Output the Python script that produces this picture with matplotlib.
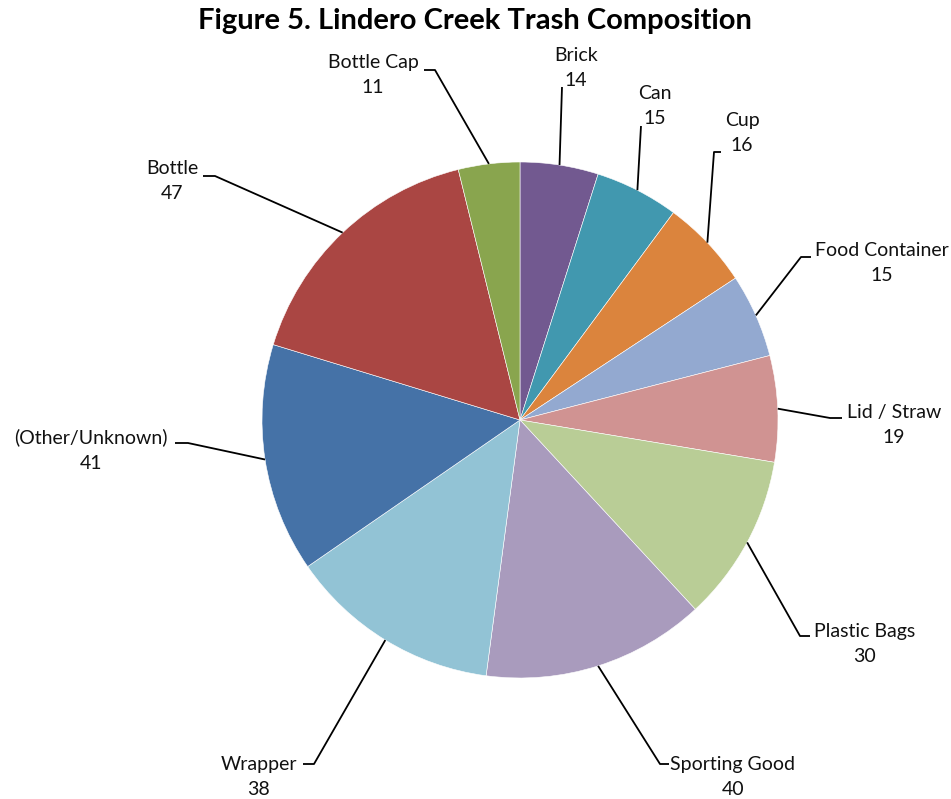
import numpy as np
import matplotlib.pyplot as plt

# trash counts, clockwise from 12 o'clock
categories = ["Brick", "Can", "Cup", "Food Container", "Lid / Straw",
              "Plastic Bags", "Sporting Good", "Wrapper", "(Other/Unknown)",
              "Bottle", "Bottle Cap"]
counts = [14, 15, 16, 15, 19, 30, 40, 38, 41, 47, 11]
colors = ["#725990", "#4198AF", "#DB843D", "#93A9D0", "#D09392",
          "#B9CD96", "#A99BBD", "#92C3D5", "#4572A7", "#AA4643", "#89A54E"]

W, H = 951, 799

# label layout in pixels from the top-left: text centre, knee, tail end
label_layout = {
    "Brick":           ((576, 68),  (562, 87),  None),
    "Can":             ((655, 106), (641, 126), None),
    "Cup":             ((742, 133), (714, 152), (721, 152)),
    "Food Container":  ((882, 263), (801, 257), (811, 257)),
    "Lid / Straw":     ((894, 425), (830, 418), (842, 418)),
    "Plastic Bags":    ((865, 644), (800, 636), (810, 636)),
    "Sporting Good":   ((733, 777), (660, 764), (669, 764)),
    "Wrapper":         ((259, 777), (314, 764), (303, 764)),
    "(Other/Unknown)": ((91, 450),  (188, 443), (175, 443)),
    "Bottle":          ((172, 181), (215, 176), (203, 176)),
    "Bottle Cap":      ((373, 75),  (435, 70),  (424, 70)),
}


def py(y):
    return H - y


plt.rcParams['font.family'] = ['Lato', 'DejaVu Sans']

fig = plt.figure(figsize=(W / 100, H / 100), dpi=100)
ax = fig.add_axes([0, 0, 1, 1])

center = (520, py(420))
radius = 258
wedges, _ = ax.pie(counts, colors=colors, startangle=90, counterclock=False,
                   center=center, radius=radius, frame=True,
                   wedgeprops=dict(linewidth=0.4, edgecolor="white"))
ax.set_xlim(0, W)
ax.set_ylim(0, H)
ax.axis("off")

for w, name, val in zip(wedges, categories, counts):
    mid = np.deg2rad((w.theta1 + w.theta2) / 2)
    ax_pt = (center[0] + radius * np.cos(mid), center[1] + radius * np.sin(mid))
    (tx, ty), knee, tail = label_layout[name]
    xs = [ax_pt[0], knee[0]]
    ys = [ax_pt[1], py(knee[1])]
    if tail is not None:
        xs.append(tail[0])
        ys.append(py(tail[1]))
    ax.plot(xs, ys, color="black", lw=1.3, solid_capstyle="butt")
    ax.text(tx, py(ty), f"{name}\n{val}", ha="center", va="center",
            fontsize=14, linespacing=1.6, color="#111111")

fig.text(475 / W, 1 - 21 / H, "Figure 5. Lindero Creek Trash Composition",
         ha="center", va="center", fontsize=21, fontweight="bold")

fig.savefig("out.png", dpi=100)
